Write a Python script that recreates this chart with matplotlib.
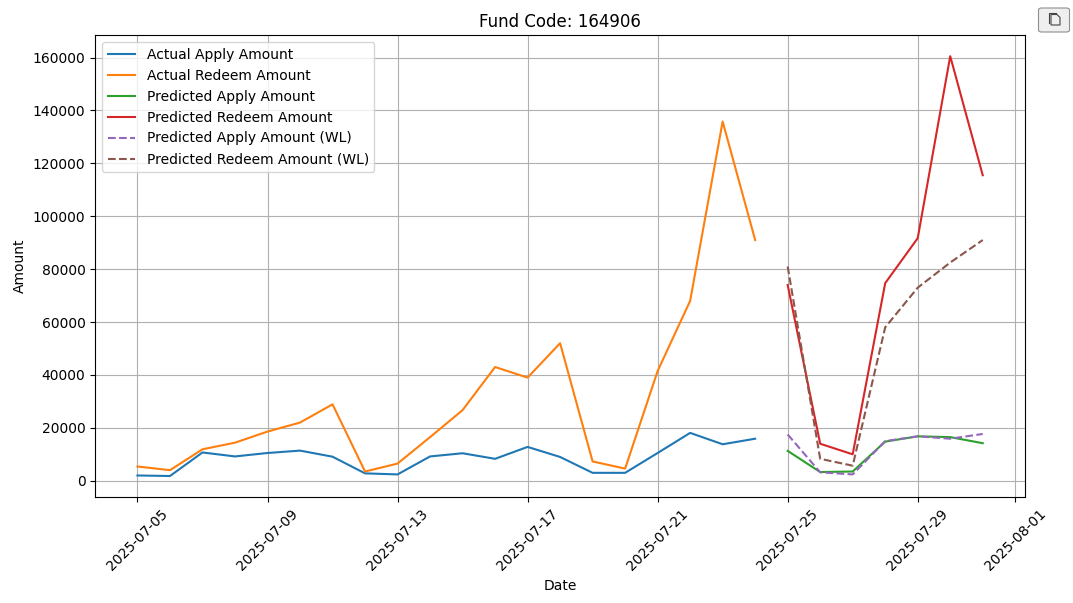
import numpy as np
import pandas as pd
import matplotlib
matplotlib.use("Agg")
import matplotlib.pyplot as plt
from matplotlib.lines import Line2D
from matplotlib.patches import FancyBboxPatch, Polygon

fund_code = "164906"

actual_dates = pd.date_range("2025-07-05", "2025-07-24")
pred_dates = pd.date_range("2025-07-25", "2025-07-31")

actual_apply = [2000, 1800, 10700, 9200, 10500, 11400, 9100, 2800, 2400, 9200,
                10400, 8300, 12800, 9000, 3000, 3000, 10500, 18100, 13800, 15900]
actual_redeem = [5400, 4000, 11900, 14400, 18600, 22000, 28900, 3500, 6500, 16500,
                 26700, 43000, 39000, 52000, 7300, 4600, 41500, 68000, 135800, 91000]
pred_apply = [11300, 3300, 3500, 14800, 16800, 16500, 14200]
pred_redeem = [74000, 14000, 10000, 74700, 91700, 160500, 115500]
wl_apply = [17500, 3200, 2400, 15000, 16800, 15900, 17700]
wl_redeem = [81000, 8300, 5700, 58000, 73000, 82500, 91000]

W, H = 1073, 603
fig = plt.figure(figsize=(W / 100, H / 100), dpi=100)
ax = fig.add_axes([95.2 / W, 1 - 497 / H, (1025 - 95.2) / W, (497 - 35.2) / H])

ax.plot(actual_dates, actual_apply, label="Actual Apply Amount")
ax.plot(actual_dates, actual_redeem, label="Actual Redeem Amount")
ax.plot(pred_dates, pred_apply, label="Predicted Apply Amount")
ax.plot(pred_dates, pred_redeem, label="Predicted Redeem Amount")
ax.plot(pred_dates, wl_apply, "--", label="Predicted Apply Amount (WL)")
ax.plot(pred_dates, wl_redeem, "--", label="Predicted Redeem Amount (WL)")

ax.set_title(f"Fund Code: {fund_code}")
ax.set_xlabel("Date")
ax.set_ylabel("Amount")
ax.legend(loc="upper left")
ax.grid(True)
ax.tick_params(axis="x", rotation=45)


def px(x, y):
    # page pixels to figure fraction
    return x / W, 1 - y / H


# copy button from the page, top right corner
fig.add_artist(FancyBboxPatch(px(1038.5, 32), 31 / W, 24 / H,
                              boxstyle="round,pad=0,rounding_size=0.003",
                              transform=fig.transFigure, facecolor="#efefef",
                              edgecolor="#8f8f8f", linewidth=0.8))
back_x, back_y = zip(*[px(1048.5, 23), px(1048.5, 12.5), px(1056, 12.5)])
fig.add_artist(Line2D(back_x, back_y, transform=fig.transFigure,
                      color="#444444", linewidth=0.8))
fig.add_artist(Polygon([px(1051, 14.5), px(1057, 14.5), px(1060, 17.5),
                        px(1060, 25), px(1051, 25)], closed=True,
                       transform=fig.transFigure, facecolor="none",
                       edgecolor="#444444", linewidth=0.8))

fig.savefig("out.png", dpi=100)
